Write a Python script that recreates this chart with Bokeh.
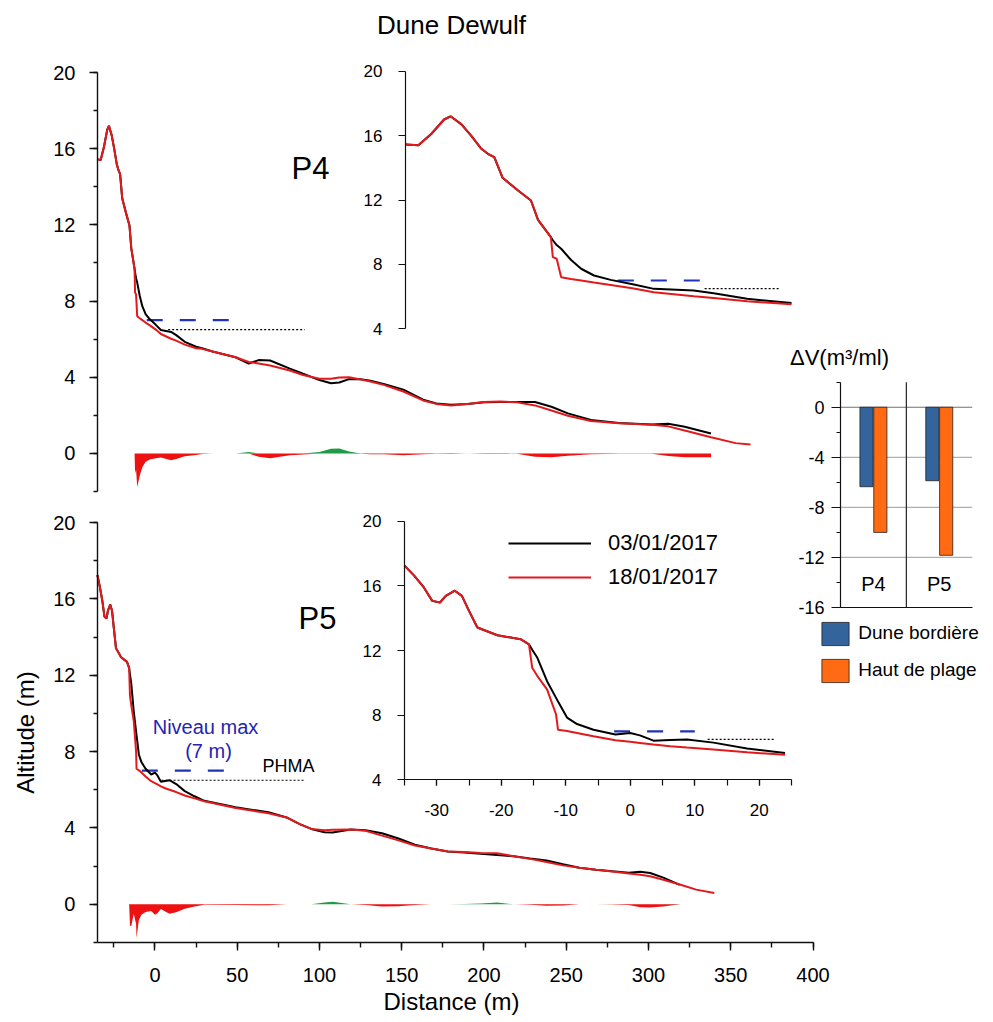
import numpy as np
from bokeh.plotting import figure
from bokeh.models import (Range1d, LinearAxis, SingleIntervalTicker, FixedTicker,
                          Label, Legend, LegendItem, PrintfTickFormatter)
from bokeh.embed import file_html
from bokeh.resources import INLINE

# ---------------- data ----------------
p4_dist = [-35, -33, -31, -29, -28, -26.3, -24.8, -23.2, -22.2, -21.2, -19.9, -17.5,
           -15.5, -14.4, -12.4, -12.1, -11.5, -10.8, -9.3, -7.7, -5.7, -3.1, 0.5, 3.6,
           9.8, 12.9, 18.1, 25, 28.6, 35, 49, 57, 63, 70, 82, 90, 100, 107, 112, 118,
           125, 131, 139, 151, 163, 171, 180, 190, 200, 210, 220, 231, 241, 251, 265,
           282, 302, 312, 322, 338, 353, 362]
p4_alt_0301 = [15.45, 15.4, 16.1, 17.0, 17.2, 16.7, 16.0, 15.18, 14.87, 14.66, 13.38, 12.59,
               11.97, 10.77, 9.69, 9.5, 9.2, 8.97, 8.29, 7.73, 7.31, 7.04, 6.75, 6.48,
               6.38, 6.21, 5.86, 5.6, 5.52, 5.35, 5.05, 4.72, 4.9, 4.88, 4.45, 4.18, 3.85, 3.68, 3.72, 3.9,
               3.9, 3.82, 3.65, 3.35, 2.82, 2.62, 2.55, 2.6, 2.68, 2.7, 2.7, 2.7, 2.45, 2.1, 1.75,
               1.6, 1.52, 1.56, 1.4, 1.05, None, None]
p4_alt_1801 = [15.45, 15.4, 16.1, 17.0, 17.2, 16.7, 16.0, 15.18, 14.87, 14.66, 13.38, 12.59,
               11.97, 10.77, 9.69, 8.45, 8.35, 7.2, 7.1, 7.0, 6.87, 6.72, 6.5, 6.27,
               6.02, 5.92, 5.71, 5.52, 5.49, 5.35, 5.05, 4.8, 4.72, 4.62, 4.35, 4.12, 3.92, 3.92, 3.98, 4.0,
               3.88, 3.78, 3.6, 3.25, 2.78, 2.6, 2.52, 2.6, 2.7, 2.72, 2.68, 2.52, 2.25, 1.98, 1.7,
               1.58, 1.5, 1.42, 1.2, 0.85, 0.54, 0.47]

p5_dist = [-35, -33.5, -32, -30.7, -29.5, -28.6, -27.2, -26.1, -25, -23.7, -20.6, -17,
           -15.7, -15.2, -14.4, -12.9, -11.5, -11.2, -9.8, -8.25, -5.7, -2.3, 0, 1.5,
           3.6, 6.2, 8.8, 12.9, 18.1, 24, 30, 49, 69, 80, 88, 95, 103, 108, 119, 128,
           138, 148, 158, 168, 178, 188, 198, 208, 218, 228, 238, 248, 258, 268, 278,
           288, 295, 301, 309, 319, 329, 340]
p5_alt_0301 = [17.25, 16.63, 15.9, 15.07, 14.97, 15.38, 15.7, 15.38, 14.45, 13.42, 12.94, 12.7,
               12.38, 12.05, 11.55, 10.1, 9.07, 8.85, 7.85, 7.45, 7.1, 6.8, 6.9, 6.75,
               6.42, 6.46, 6.5, 6.3, 5.93, 5.66, 5.42, 5.08, 4.82, 4.55, 4.2, 3.95, 3.78, 3.76, 3.92, 3.88,
               3.72, 3.45, 3.12, 2.92, 2.77, 2.72, 2.65, 2.58, 2.52, 2.4, 2.3, 2.1, 1.92, 1.81, 1.73,
               1.66, 1.7, 1.64, 1.4, 1.02, None, None]
p5_alt_1801 = [17.25, 16.63, 15.9, 15.07, 14.97, 15.38, 15.7, 15.38, 14.45, 13.42, 12.94, 12.7,
               12.38, 10.93, 10.42, 9.6, 8.04, 7.1, 7.02, 6.9, 6.7, 6.45, 6.35, 6.28,
               6.18, 6.08, 6.0, 5.88, 5.7, 5.55, 5.4, 5.04, 4.77, 4.55, 4.2, 3.95, 3.88, 3.9, 3.92, 3.85,
               3.6, 3.35, 3.08, 2.92, 2.77, 2.74, 2.69, 2.68, 2.52, 2.38, 2.22, 2.04, 1.92, 1.81, 1.72,
               1.62, 1.55, 1.47, 1.29, 1.04, 0.77, 0.59]

dates = ["03/01/2017", "18/01/2017"]
niveau_max = 7.0     # m
phma = 6.5           # m

bar_profiles = ["P4", "P5"]
bar_series = ["Dune bordière", "Haut de plage"]
dv_dune = [-6.35, -5.87]
dv_haut = [-10.0, -11.83]

# ---------------- layout / style ----------------
OFF = 0          # the page puts the canvas at the top-left corner
W, H = 990, 1020
FONT = "Liberation Sans"
RED = "#e3191c"
RED_FILL = "#ee1111"
GREEN_FILL = "#1f9a45"
BLUE = "#1f32b8"
BLUE_TXT = "#2424b4"
BAR_BLUE = "#33659c"
BAR_ORANGE = "#ff6a13"

xr, yr = {}, {}


def xmap(name, d0, d1, p0, p1):
    k = (p1 - p0) / (d1 - d0)
    s = d0 - (p0 - OFF) / k
    xr[name] = Range1d(start=s, end=s + W / k)


def ymap(name, d0, d1, pb, pt):
    k = (pb - pt) / (d1 - d0)
    yr[name] = Range1d(start=d0 - (OFF + H - pb) / k, end=d1 + (pt - OFF) / k)


xmap("main", -35, 400, 96.9, 812.5)
ymap("p4", -2, 20, 491, 72)
ymap("p5", -2, 20, 942, 522)
xmap("i4", -35, 25, 405, 791)
ymap("i4", 4, 20, 328.3, 70.7)
xmap("i5", -35, 25, 404, 791)
ymap("i5", 4, 20, 779.3, 520.7)
xmap("bar", 0, 2, 840, 971.7)
ymap("bar", -16, 2, 607, 381.7)

p = figure(width=W, height=H, output_backend="svg", toolbar_location=None,
           x_range=Range1d(OFF, OFF + W), y_range=Range1d(OFF + H, OFF),
           extra_x_ranges=xr, extra_y_ranges=yr,
           x_axis_location=None, y_axis_location=None,
           min_border=0, outline_line_color=None,
           background_fill_color="white", border_fill_color="white")
p.xgrid.visible = False
p.ygrid.visible = False


def hline(xn, yn, x0, x1, level, **style):
    p.line([x0, x1], [level, level], x_range_name=xn, y_range_name=yn, **style)


def profile(xn, yn, dist, a0, a1, xmax=None, fill=False):
    d = np.asarray(dist, float)
    b = np.array([np.nan if v is None else v for v in a0], float)
    r = np.asarray(a1, float)
    if xmax is not None:
        m = d <= xmax
        d, b, r = d[m], b[m], r[m]
    kw = dict(x_range_name=xn, y_range_name=yn)
    if fill:
        ok = ~np.isnan(b)
        diff = r[ok] - b[ok]
        p.varea(x=d[ok], y1=0, y2=np.minimum(diff, 0), fill_color=RED_FILL, **kw)
        p.varea(x=d[ok], y1=0, y2=np.maximum(diff, 0), fill_color=GREEN_FILL, **kw)
    lb = p.line(d, b, line_color="black", line_width=2, **kw)
    lr = p.line(d, r, line_color=RED, line_width=2, **kw)
    return lb, lr


dash_blue = dict(line_color=BLUE, line_width=2.2, line_dash="16 17")
dot_black = dict(line_color="black", line_width=1.2, line_dash="2 2")

# reference levels
hline("main", "p4", -5, 45, niveau_max, **dash_blue)
hline("main", "p4", 8, 91, phma, **dot_black)
hline("main", "p5", -8, 42, niveau_max, **dash_blue)
hline("main", "p5", 4, 91, phma, **dot_black)
hline("i4", "i4", -2, 11, niveau_max, **dash_blue)
hline("i4", "i4", 11.5, 23, phma, **dot_black)
hline("i5", "i5", -2.5, 10, niveau_max, **dash_blue)
hline("i5", "i5", 12, 22.5, phma, **dot_black)

# profiles
profile("main", "p4", p4_dist, p4_alt_0301, p4_alt_1801, fill=True)
lb5, lr5 = profile("main", "p5", p5_dist, p5_alt_0301, p5_alt_1801, fill=True)
profile("i4", "i4", p4_dist, p4_alt_0301, p4_alt_1801, xmax=25)
profile("i5", "i5", p5_dist, p5_alt_0301, p5_alt_1801, xmax=25)

# bar chart
bx = np.arange(len(bar_profiles)) + 0.5
p.segment(x0=0, x1=len(bar_profiles), y0=[-4, -8, -12], y1=[-4, -8, -12],
          line_color="#b0b0b0", line_width=1.2, x_range_name="bar", y_range_name="bar")
p.segment(x0=0, x1=len(bar_profiles), y0=0, y1=0,
          line_color="#707070", line_width=1.2, x_range_name="bar", y_range_name="bar")
p.segment(x0=1, x1=1, y0=-16, y1=2, line_color="#222222", line_width=1.2,
          x_range_name="bar", y_range_name="bar")
vb_d = p.vbar(x=bx - 0.105, width=0.2, top=0, bottom=dv_dune, fill_color=BAR_BLUE,
              line_color="#222222", line_width=0.8, x_range_name="bar", y_range_name="bar")
vb_h = p.vbar(x=bx + 0.105, width=0.2, top=0, bottom=dv_haut, fill_color=BAR_ORANGE,
              line_color="#222222", line_width=0.8, x_range_name="bar", y_range_name="bar")


# axes
def add_axis(side, xn, yn, loc, bounds, ticker, size, standoff, tick_out, minor_out=0,
             lw=1.4, color="#111111"):
    ax = LinearAxis(x_range_name=xn, y_range_name=yn, fixed_location=loc,
                    bounds=bounds, ticker=ticker,
                    formatter=PrintfTickFormatter(format="%d"))
    ax.axis_line_color = color
    ax.axis_line_width = lw
    ax.major_tick_line_color = color if tick_out else None
    ax.major_tick_line_width = lw
    ax.minor_tick_line_color = color if minor_out else None
    ax.minor_tick_line_width = lw
    ax.major_tick_in = 0
    ax.major_tick_out = tick_out
    ax.minor_tick_in = 0
    ax.minor_tick_out = minor_out
    ax.major_label_text_font = FONT
    ax.major_label_text_font_size = f"{size}px"
    ax.major_label_text_color = "black"
    ax.major_label_standoff = standoff
    p.add_layout(ax, side)
    return ax


add_axis("left", "main", "p4", -35, (-2, 20), SingleIntervalTicker(interval=4, num_minor_ticks=2), 20, 14, 8, 4)
add_axis("left", "main", "p5", -35, (-2, 20), SingleIntervalTicker(interval=4, num_minor_ticks=2), 20, 14, 8, 4)
add_axis("below", "main", "p5", -2, (-35, 400), SingleIntervalTicker(interval=50, num_minor_ticks=2), 20, 17, 8, 5)
add_axis("left", "i4", "i4", -35, (4, 20), SingleIntervalTicker(interval=4, num_minor_ticks=0), 17, 16, 7, 0, lw=1.2)
add_axis("left", "i5", "i5", -35, (4, 20), SingleIntervalTicker(interval=4, num_minor_ticks=0), 17, 16, 7, 0, lw=1.2)
add_axis("below", "i5", "i5", 4, (-35, 25), SingleIntervalTicker(interval=10, num_minor_ticks=2), 17, 18, 6, 6, lw=1.2)
add_axis("left", "bar", "bar", 0, (-16, 2), SingleIntervalTicker(interval=4, num_minor_ticks=2), 18, 7, 9, 4, lw=1.2)
cat_ax = add_axis("above", "bar", "bar", -16, (0, 2), FixedTicker(ticks=[float(v) for v in bx]), 20, 13, 0, 0, lw=1.2)
cat_ax.major_label_overrides = {float(v): lab for v, lab in zip(bx, bar_profiles)}


# texts
def label(x, y, text, size, color="black", angle=0.0):
    p.add_layout(Label(x=x, y=y, text=text, text_font=FONT, text_font_size=f"{size}px",
                       text_color=color, text_align="center", text_baseline="middle",
                       angle=angle))


label(451, 24, "Dune Dewulf", 26)
label(310, 168, "P4", 31)
label(317, 618, "P5", 31)
label(205, 726, "Niveau max", 20, BLUE_TXT)
label(208, 750, "(7 m)", 20, BLUE_TXT)
label(288, 765, "PHMA", 18)
label(25, 732, "Altitude (m)", 24, angle=np.pi / 2)
label(451, 1001, "Distance (m)", 24)
label(839, 357, "ΔV(m³/ml)", 22)

# legends
line_leg = Legend(items=[LegendItem(label=dates[0], renderers=[lb5]),
                         LegendItem(label=dates[1], renderers=[lr5])],
                  location=(508 - OFF, H - (525.7 - OFF) - 68),
                  glyph_width=83, glyph_height=34, label_height=34, label_standoff=17,
                  spacing=0, padding=0, margin=0, border_line_color=None,
                  background_fill_alpha=0, label_text_font=FONT, label_text_font_size="22px",
                  label_text_color="black")
p.add_layout(line_leg)

bar_leg = Legend(items=[LegendItem(label=bar_series[0], renderers=[vb_d]),
                        LegendItem(label=bar_series[1], renderers=[vb_h])],
                 location=(818.3 - OFF, H - (618.8 - OFF) - 66),
                 glyph_width=34, glyph_height=29, label_height=29, label_standoff=6,
                 spacing=8, padding=0, margin=0, border_line_color=None,
                 background_fill_alpha=0, label_text_font=FONT, label_text_font_size="19px",
                 label_text_color="black")
p.add_layout(bar_leg)

open("out.html", "w").write(file_html(p, INLINE, "Dune Dewulf"))
